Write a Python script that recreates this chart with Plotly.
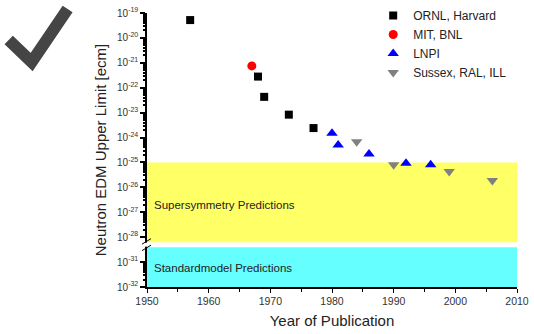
import numpy as np
import plotly.graph_objects as go

# ---- data ----
ornl_years = [1957, 1968, 1969, 1973, 1977]
ornl_edm = [5.2e-20, 2.8e-22, 4.3e-23, 8.3e-24, 2.4e-24]
mit_years = [1967]
mit_edm = [7.5e-22]
lnpi_years = [1980, 1981, 1986, 1992, 1996]
lnpi_edm = [1.5e-24, 5.0e-25, 2.2e-25, 9.2e-26, 8.0e-26]
sussex_years = [1984, 1990, 1999, 2006]
sussex_edm = [6.8e-25, 8.0e-26, 4.3e-26, 1.9e-26]

upper_exps = list(range(-19, -29, -1))   # shown directly
lower_exps = [-31, -32]                   # shown below axis break
BREAK_SHIFT = 2                           # -31 -> -29, -32 -> -30

def v(val):
    e = np.log10(val)
    return np.where(e < -28.5, e + BREAK_SHIFT, e)

tickvals = upper_exps + [e + BREAK_SHIFT for e in lower_exps]
ticktext = [f"10<sup>{e}</sup>" for e in upper_exps + lower_exps]
minor_vals = []
for d in range(-20, -29, -1):
    minor_vals += [d + np.log10(k) for k in range(2, 10)]
minor_vals += [-30 + np.log10(k) for k in range(2, 10)]

# plot geometry (px)
W, H = 534, 334
L, R, T, B = 146.5, 17, 13, 47
pw, ph = W - L - R, H - T - B

def px(x):
    return (x - L) / pw

def py(y):
    return (H - B - y) / ph

fig = go.Figure()
fig.add_trace(go.Scatter(x=ornl_years, y=v(ornl_edm), mode="markers", name="ORNL, Harvard",
                         marker=dict(symbol="square", size=8, color="black")))
fig.add_trace(go.Scatter(x=mit_years, y=v(mit_edm), mode="markers", name="MIT, BNL",
                         marker=dict(symbol="circle", size=9, color="#ff0000")))
fig.add_trace(go.Scatter(x=lnpi_years, y=v(lnpi_edm), mode="markers", name="LNPI",
                         marker=dict(symbol="triangle-up", size=10, color="#0000ff")))
fig.add_trace(go.Scatter(x=sussex_years, y=v(sussex_edm), mode="markers", name="Sussex, RAL, ILL",
                         marker=dict(symbol="triangle-down", size=10, color="#808080")))

shapes = [
    dict(type="rect", xref="x", yref="y", x0=1950, x1=2010, y0=-28.2, y1=-25,
         fillcolor="#ffff66", line_width=0, layer="below"),
    dict(type="rect", xref="x", yref="y", x0=1950, x1=2010, y0=-30, y1=-28.4,
         fillcolor="#66ffff", line_width=0, layer="below"),
    # axis break gap and marks
    dict(type="rect", xref="paper", yref="y", x0=px(143), x1=px(150), y0=-28.38, y1=-28.22,
         fillcolor="white", line_width=0, layer="above"),
    dict(type="line", xref="paper", yref="y", x0=px(141.5), x1=px(150.5), y0=-28.28, y1=-28.06,
         line=dict(color="black", width=1)),
    dict(type="line", xref="paper", yref="y", x0=px(141.5), x1=px(150.5), y0=-28.54, y1=-28.32,
         line=dict(color="black", width=1)),
    # check mark
    dict(type="path", xref="paper", yref="paper",
         path=f"M {px(8)},{py(40)} L {px(31)},{py(62)} L {px(67)},{py(9)}",
         line=dict(color="#454545", width=12)),
]

annotations = [
    dict(text="Supersymmetry Predictions", xref="paper", yref="paper", x=px(152), y=py(205),
         xanchor="left", yanchor="middle", showarrow=False,
         font=dict(family="Liberation Sans, Arial", size=11.5, color="#222")),
    dict(text="Standardmodel Predictions", xref="paper", yref="paper", x=px(152), y=py(268),
         xanchor="left", yanchor="middle", showarrow=False,
         font=dict(family="Liberation Sans, Arial", size=11.5, color="#222")),
]

fig.update_layout(
    width=W, height=H,
    margin=dict(l=L, r=R, t=T, b=B, autoexpand=False),
    paper_bgcolor="white", plot_bgcolor="white",
    font=dict(family="Liberation Sans, Arial", color="#222"),
    shapes=shapes, annotations=annotations,
    showlegend=True,
    legend=dict(x=px(373), y=py(1), xanchor="left", yanchor="top",
                font=dict(size=12, color="#222"), bgcolor="rgba(0,0,0,0)",
                borderwidth=0, itemwidth=30),
    xaxis=dict(range=[1950, 2010], tickvals=list(range(1950, 2011, 10)),
               automargin=False,
               showline=True, linecolor="black", linewidth=1.5, mirror=False,
               ticks="outside", ticklen=4, tickwidth=1, tickcolor="black",
               minor=dict(tickvals=list(range(1955, 2010, 10)), ticks="outside", ticklen=3,
                          tickcolor="black"),
               showgrid=False, zeroline=False,
               tickfont=dict(size=10.5, color="#333"),
               title=dict(text="Year of Publication", font=dict(size=15, color="#222"), standoff=9)),
    yaxis=dict(range=[-30, -19], tickvals=tickvals, ticktext=ticktext,
               automargin=False,
               showline=True, linecolor="black", linewidth=1.5,
               ticks="outside", ticklen=5, tickwidth=1.5, tickcolor="black",
               minor=dict(tickvals=minor_vals, ticks="outside", ticklen=2.5, tickcolor="black"),
               showgrid=False, zeroline=False,
               tickfont=dict(size=10, color="#333"),
               title=dict(text="Neutron EDM Upper Limit [ecm]", font=dict(size=15, color="#222"),
                          standoff=7)),
)

fig.write_html("out.html")
